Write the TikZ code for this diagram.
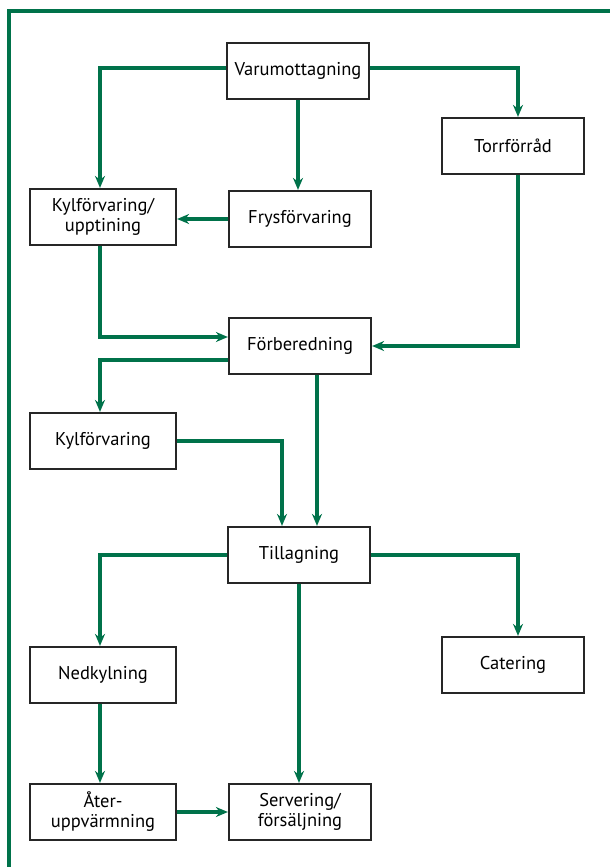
\documentclass[tikz,border=0pt]{standalone}
\usepackage{fontspec}
\setmainfont{PT Sans}
\usepackage{tikz}
\usetikzlibrary{arrows.meta,positioning}

\definecolor{flowgreen}{RGB}{0,114,74}

\tikzset{
  stepbox/.style={draw=black!85, line width=2.2pt, fill=white, minimum width=142pt,
    minimum height=56pt, align=center, font=\fontsize{18.5}{20}\selectfont, inner sep=2pt},
  flow/.style={draw=flowgreen, line width=3.2pt, -{Stealth[length=12pt,width=10pt]}},
  frame/.style={draw=flowgreen, line width=3.2pt}
}

\begin{document}
\begin{tikzpicture}[x=1pt,y=-1pt]
  \useasboundingbox (0,0) rectangle (610,867);
  \draw[frame] (9,870) -- (9,11) -- (615,11);

  \node[stepbox] (varu) at (298,71) {Varumottagning};
  \node[stepbox] (torr) at (513,146) {Torrförråd};
  \node[stepbox, minimum width=146pt] (kylupp) at (103,217) {Kylförvaring/\\upptining};
  \node[stepbox] (frys) at (300,219) {Frysförvaring};
  \node[stepbox] (forb) at (300,346) {Förberedning};
  \node[stepbox, minimum width=146pt] (kyl) at (103,441) {Kylförvaring};
  \node[stepbox] (till) at (299,555) {Tillagning};
  \node[stepbox, minimum width=146pt] (ned) at (103,675) {Nedkylning};
  \node[stepbox] (cat) at (513,665) {Catering};
  \node[stepbox, minimum width=146pt] (ater) at (103,812) {Åter-\\uppvärmning};
  \node[stepbox] (serv) at (300,812) {Servering/\\försäljning};

  % from goods reception
  \draw[flow] ([yshift=3pt]varu.west) -| ([xshift=-3pt]kylupp.north);
  \draw[flow] ([yshift=3pt]varu.east) -| ([xshift=5pt]torr.north);
  \draw[flow] (varu.south) -- (varu.south |- frys.north);
  \draw[flow] (frys.west) -- (frys.west -| kylupp.east);

  % to and from preparation
  \draw[flow] ([xshift=-3pt]kylupp.south) |- ([yshift=9pt]forb.west);
  \draw[flow] ([xshift=5pt]torr.south) |- (forb.east);
  \draw[flow] ([yshift=-14pt]forb.west) -| ([xshift=-3pt]kyl.north);
  \draw[flow] ([xshift=17pt]forb.south) -- ([xshift=18pt]till.north);
  \draw[flow] (kyl.east) -| ([xshift=-17pt]till.north);

  % from cooking
  \draw[flow] (till.west) -| ([xshift=-3pt]ned.north);
  \draw[flow] (till.east) -| ([xshift=5pt]cat.north);
  \draw[flow] (till.south) -- (till.south |- serv.north);
  \draw[flow] ([xshift=-3pt]ned.south) -- ([xshift=-3pt]ater.north);
  \draw[flow] (ater.east) -- (ater.east -| serv.west);
\end{tikzpicture}
\end{document}
